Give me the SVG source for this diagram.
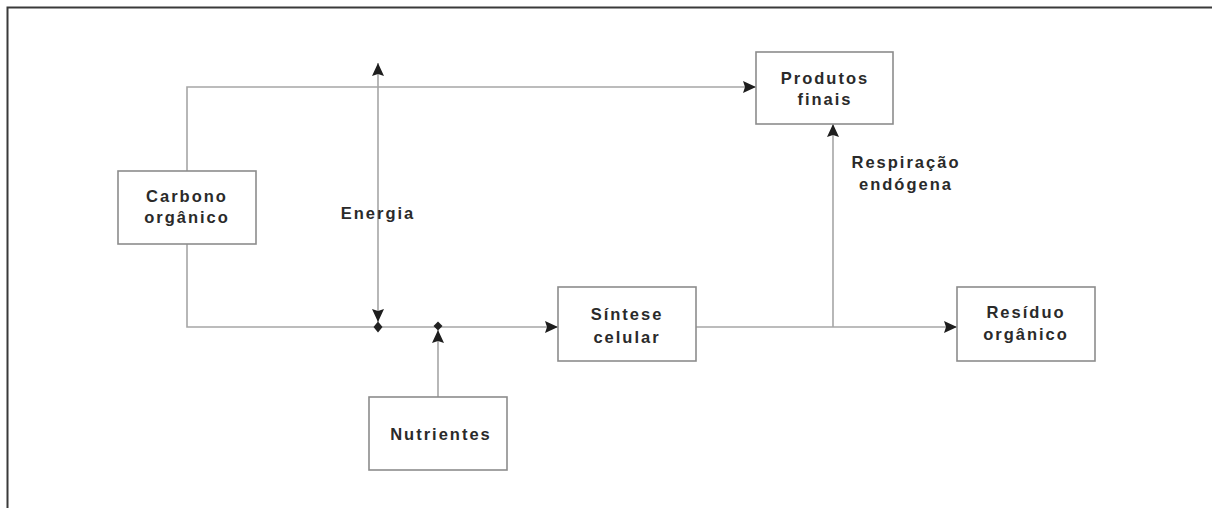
<svg xmlns="http://www.w3.org/2000/svg" width="1212" height="508" viewBox="0 0 1212 508">
<style>
.box{fill:#fff;stroke:#8c8c8c;stroke-width:1.6}
.lbl{font-family:"Liberation Sans",Arial,sans-serif;font-size:16.5px;font-weight:bold;fill:#2a2a2a;letter-spacing:2px;text-anchor:middle}
.ln{fill:none;stroke:#a6a6a6;stroke-width:1.6}
.dot{fill:#222}
</style>
<defs>
<marker id="ah" markerUnits="userSpaceOnUse" markerWidth="14" markerHeight="12" refX="13" refY="6" orient="auto">
<path d="M0,0 L13,6 L0,12 L2,6 Z" fill="#1e1e1e"/>
</marker>
</defs>
<rect width="1212" height="508" fill="#fff"/>
<path d="M7.5,508 V7.5 H1212" fill="none" stroke="#3a3a3a" stroke-width="2"/>
<g id="connectors">
<path class="ln" d="M187,171 V87 H756" marker-end="url(#ah)"/>
<path class="ln" d="M187,244 V327 H558" marker-end="url(#ah)"/>
<path class="ln" d="M378,200 V63" marker-end="url(#ah)"/>
<path class="ln" d="M378,200 V322" marker-end="url(#ah)"/>
<path class="ln" d="M438,397 V330" marker-end="url(#ah)"/>
<path class="ln" d="M696,327 H957" marker-end="url(#ah)"/>
<path class="ln" d="M833,327 V124" marker-end="url(#ah)"/>
<path class="dot" d="M378,321.5 L382.5,327 L378,332.5 L373.5,327 Z"/>
<path class="dot" d="M438,321.5 L442.5,326 L438,330.5 L433.5,326 Z"/>
</g>
<g id="energia"><text class="lbl" x="378" y="219">Energia</text></g>
<g id="respiracao"><text class="lbl" x="906" y="168">Respiração</text><text class="lbl" x="906" y="190">endógena</text></g>
<g id="carbono"><rect class="box" x="118" y="171" width="138" height="73"/><text class="lbl" x="187" y="202">Carbono</text><text class="lbl" x="187" y="223">orgânico</text></g>
<g id="produtos"><rect class="box" x="756" y="52" width="137" height="72"/><text class="lbl" x="825" y="84">Produtos</text><text class="lbl" x="825" y="105">finais</text></g>
<g id="sintese"><rect class="box" x="558" y="287" width="138" height="74"/><text class="lbl" x="627" y="320">Síntese</text><text class="lbl" x="627" y="343">celular</text></g>
<g id="residuo"><rect class="box" x="957" y="287" width="138" height="74"/><text class="lbl" x="1026" y="318">Resíduo</text><text class="lbl" x="1026" y="340">orgânico</text></g>
<g id="nutrientes"><rect class="box" x="369" y="397" width="138" height="73"/><text class="lbl" x="441" y="440">Nutrientes</text></g>
</svg>
